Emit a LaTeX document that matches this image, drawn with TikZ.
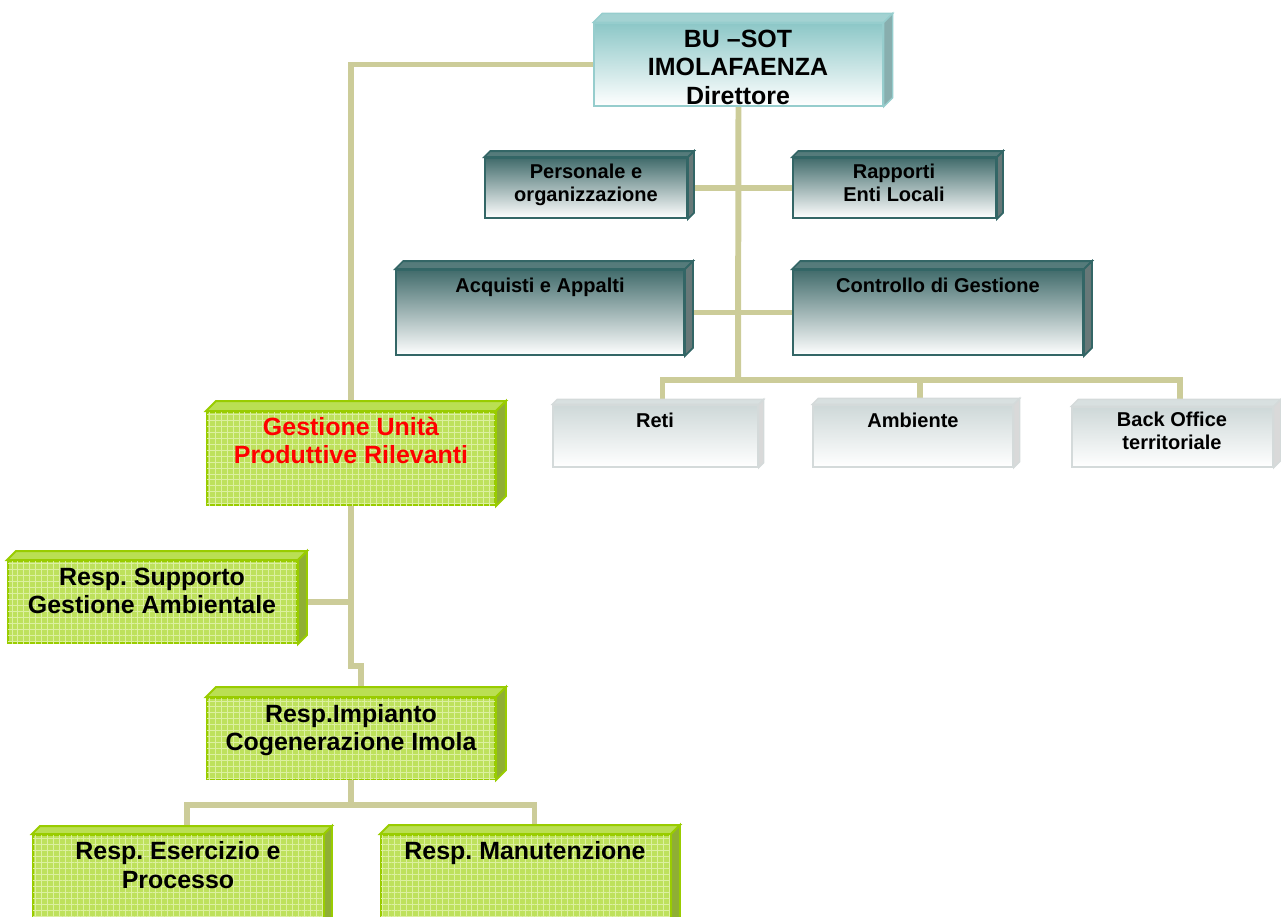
\documentclass[tikz,border=0pt]{standalone}
\usepackage{fontspec}
\setmainfont{Liberation Sans}
\usetikzlibrary{fit,backgrounds,patterns.meta}

\definecolor{kaki}{RGB}{204,204,153}
\definecolor{tealh}{RGB}{140,199,199}
\definecolor{tealb}{RGB}{150,205,205}
\definecolor{sombreh}{RGB}{66,108,108}
\definecolor{sombreb}{RGB}{51,102,102}
\definecolor{clairh}{RGB}{206,216,216}
\definecolor{clairb}{RGB}{212,218,218}
\definecolor{vertf}{RGB}{190,225,92}
\definecolor{vertg}{RGB}{220,240,160}
\definecolor{vertb}{RGB}{153,204,0}

\newcommand{\lignes}[1]{\begin{tabular}[t]{@{}c@{}}#1\end{tabular}}

\tikzset{
  lien/.style={draw=kaki, line width=3.4pt},
  gras/.style={font=\fontsize{14.2pt}{16.5pt}\selectfont\bfseries},
  petit/.style={font=\fontsize{11.4pt}{13.1pt}\selectfont\bfseries},
  texte/.style={anchor=base, inner sep=0pt},
  % ------ boite du directeur
  haut/.style={draw=tealb, line width=0.8pt, top color=tealh, bottom color=white, inner sep=0pt},
  haut face/.style={draw=tealb, line width=0.8pt, fill=tealh!80!white},
  haut cote/.style={draw=tealb, line width=0.8pt, fill=gray!35!tealh},
  haut texte/.style={texte, gras},
  % ------ boites staff
  sombre/.style={draw=sombreb, line width=1pt, top color=sombreh, bottom color=white, inner sep=0pt},
  sombre face/.style={draw=sombreb, line width=1pt, fill=sombreh!90!white},
  sombre cote/.style={draw=sombreb, line width=1pt, fill=gray!60!sombreh},
  sombre texte/.style={texte, petit},
  % ------ boites de ligne
  clair/.style={draw=clairb, line width=0.8pt, top color=clairh, bottom color=white, inner sep=0pt},
  clair face/.style={draw=clairb, line width=0.8pt, fill=clairh!80!white},
  clair cote/.style={draw=clairb, line width=0.8pt, fill=gray!30},
  clair texte/.style={texte, petit},
  % ------ boites vertes
  vert/.style={draw=vertb, line width=1.1pt, fill=vertf, inner sep=0pt,
    postaction={pattern={Hatch[angle=0, distance=3.4pt, line width=0.5pt]}, pattern color=vertg}},
  vert face/.style={draw=vertb, line width=1.1pt, fill=vertf!90!vertb},
  vert cote/.style={draw=vertb, line width=1.1pt, fill=vertf!70!vertb!80!black},
  vert texte/.style={texte, gras},
  rouge/.style={vert},
  rouge face/.style={vert face},
  rouge cote/.style={vert cote},
  rouge texte/.style={vert texte, text=red}
}

% nom, style, coin NO, coin SE, profondeur, ligne de base, texte
\newcommand{\boite}[7]{%
  \node[#2, fit={(#3) (#4)}] (#1) {};
  \filldraw[#2 face] (#1.north west) -- ++(#5,-#5) -- ([shift={(#5,-#5)}]#1.north east) -- (#1.north east) -- cycle;
  \filldraw[#2 cote] (#1.north east) -- ++(#5,-#5) -- ([shift={(#5,-#5)}]#1.south east) -- (#1.south east) -- cycle;
  \node[#2 texte] (#1-t) at (#6) {\lignes{#7}};
}

\begin{document}
\frenchspacing
\begin{tikzpicture}[x=0.02cm, y=-0.02cm]  % ------ Organigramme  ---------------
    \useasboundingbox (0,0) rectangle (1281,916);
    \clip (0,0) rectangle (1281,916);

    \boite{dir}{haut}{594,23}{883,106}{9}{738,47}{BU –SOT\\IMOLAFAENZA\\Direttore}
    \boite{pers}{sombre}{485,158}{687,218}{6}{586,178}{Personale e\\organizzazione}
    \boite{rapp}{sombre}{793,158}{996,218}{6}{894,178}{Rapporti\\Enti Locali}
    \boite{acq}{sombre}{396,270}{684,355}{8}{540,292}{Acquisti e Appalti}
    \boite{ctrl}{sombre}{793,270}{1083,355}{8}{938,292}{Controllo di Gestione}
    \boite{reti}{clair}{553,405}{758,467}{5}{655,427}{Reti}
    \boite{amb}{clair}{813,405}{1013,467}{6}{913,427}{Ambiente}
    \boite{back}{clair}{1072,407}{1273,467}{7}{1172,426}{Back Office\\territoriale}
    \boite{gur}{rouge}{207,412}{495,505}{10}{351,435}{Gestione Unità\\Produttive Rilevanti}
    \boite{sup}{vert}{8,561}{297,643}{9}{152,585}{Resp. Supporto\\Gestione Ambientale}
    \boite{imp}{vert}{207,698}{495,779}{10}{351,722}{Resp.Impianto\\Cogenerazione Imola}
    \boite{ese}{vert}{33,835}{323,930}{8}{178,859}{Resp. Esercizio e\\Processo}
    \boite{man}{vert}{381,835}{670,930}{9}{525,859}{Resp. Manutenzione}

    \coordinate (bus) at (738,380);
\begin{scope}[on background layer]
    \draw [lien] (dir.west) -| (gur.north);
    \draw [lien] (dir.south) -- (bus);
    \draw [lien] (pers.east) -- (rapp.west);
    \draw [lien] (acq.east) -- (ctrl.west);
    \draw [lien] ([shift={(7,0)}]reti.north) |- (bus) -| ([shift={(7,0)}]back.north);
    \draw [lien] (bus) -| ([shift={(7,0)}]amb.north);
    \draw [lien] (gur.south) |- ([shift={(10,-31)}]imp.north) -- ([shift={(10,0)}]imp.north);
    \draw [lien] (sup.east) -- (sup.east -| gur.south);
    \draw [lien] (imp.south) -- ++(0,25) coordinate (bas);
    \draw [lien] ([shift={(9,0)}]ese.north) |- (bas) -| ([shift={(9,0)}]man.north);
\end{scope}
\end{tikzpicture}
\end{document}
